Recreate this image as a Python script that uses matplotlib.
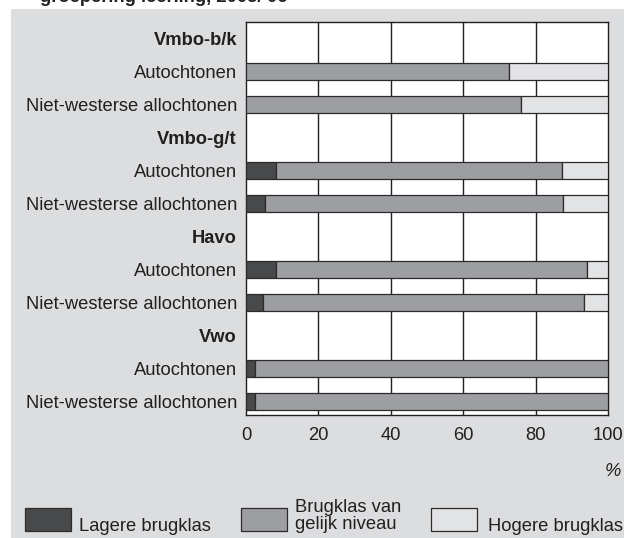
import matplotlib.pyplot as plt
from matplotlib.patches import Rectangle

plt.rcParams["font.family"] = ["Liberation Sans", "DejaVu Sans"]

# rows top to bottom; group header rows have no bars
row_labels = [
    "Vmbo-b/k", "Autochtonen", "Niet-westerse allochtonen",
    "Vmbo-g/t", "Autochtonen", "Niet-westerse allochtonen",
    "Havo", "Autochtonen", "Niet-westerse allochtonen",
    "Vwo", "Autochtonen", "Niet-westerse allochtonen",
]
is_header = [True, False, False] * 4

lager = [None, 0, 0, None, 8.3, 5.3, None, 8.3, 4.8, None, 2.5, 2.5]
gelijk = [None, 72.7, 76.0, None, 78.9, 82.3, None, 85.8, 88.5, None, 97.5, 97.5]
hoger = [None, 27.3, 24.0, None, 12.8, 12.4, None, 5.9, 6.7, None, 0, 0]

series_names = ["Lagere brugklas", "Brugklas van\ngelijk niveau", "Hogere brugklas"]
colors = ["#48494b", "#9d9ea2", "#e2e3e5"]
panel_bg = "#dcdddf"
ink = "#231f20"
fs = 13.2

fig = plt.figure(figsize=(6.24, 5.38), dpi=100)
fig.patch.set_facecolor("white")
fig.patches.append(Rectangle((11 / 624, 0), 1, 1 - 9 / 538, transform=fig.transFigure,
                             facecolor=panel_bg, edgecolor="none", zorder=-10))

# title runs off the top of the picture, as in the source page
fig.text(40 / 624, 1 - 2 / 538, "groepering leerling, 2005/'06", fontsize=fs,
         fontweight="bold", color=ink, va="baseline", ha="left")

ax = fig.add_axes([246 / 624, 1 - 415 / 538, (608 - 246) / 624, (415 - 22) / 538])
ax.set_facecolor("white")

ys = list(range(len(row_labels)))
for i, y in enumerate(ys):
    if is_header[i]:
        continue
    left = 0
    for val, col in zip([lager[i], gelijk[i], hoger[i]], colors):
        if val > 0:
            ax.barh(y, val, left=left, height=0.52, color=col, edgecolor="#2b2b2b",
                    linewidth=0.9, zorder=3)
        left += val

ax.set_xlim(0, 100)
ax.set_ylim(11.42, -0.5)
ax.set_xticks([0, 20, 40, 60, 80, 100])
ax.tick_params(axis="x", length=0, pad=9, labelsize=fs, colors=ink)
ax.set_yticks(ys)
ax.set_yticklabels(row_labels, fontsize=fs, color=ink)
ax.tick_params(axis="y", length=0, pad=6.5)
for lab, h in zip(ax.get_yticklabels(), is_header):
    if h:
        lab.set_fontweight("bold")
for x in [20, 40, 60, 80]:
    ax.axvline(x, color=ink, linewidth=1.0, zorder=1)
for sp in ax.spines.values():
    sp.set_color(ink)
    sp.set_linewidth(1.0)

fig.text(621 / 624, 1 - 472 / 538, "%", fontsize=fs, style="italic", ha="right",
         va="center", color=ink)

# legend
legend_boxes = [25, 241, 431]
for x, col in zip(legend_boxes, colors):
    fig.patches.append(Rectangle((x / 624, 1 - 531 / 538), 46 / 624, 23 / 538,
                                 transform=fig.transFigure, facecolor=col,
                                 edgecolor="#2b2b2b", linewidth=0.9))
fig.text(79 / 624, 1 - 531 / 538, series_names[0], fontsize=fs, color=ink,
         va="baseline", ha="left")
line1, line2 = series_names[1].split("\n")
fig.text(295 / 624, 1 - 511.5 / 538, line1, fontsize=fs, color=ink,
         va="baseline", ha="left")
fig.text(295 / 624, 1 - 529 / 538, line2, fontsize=fs, color=ink,
         va="baseline", ha="left")
fig.text(488 / 624, 1 - 531 / 538, series_names[2], fontsize=fs, color=ink,
         va="baseline", ha="left")

fig.savefig("out.png", dpi=100)
